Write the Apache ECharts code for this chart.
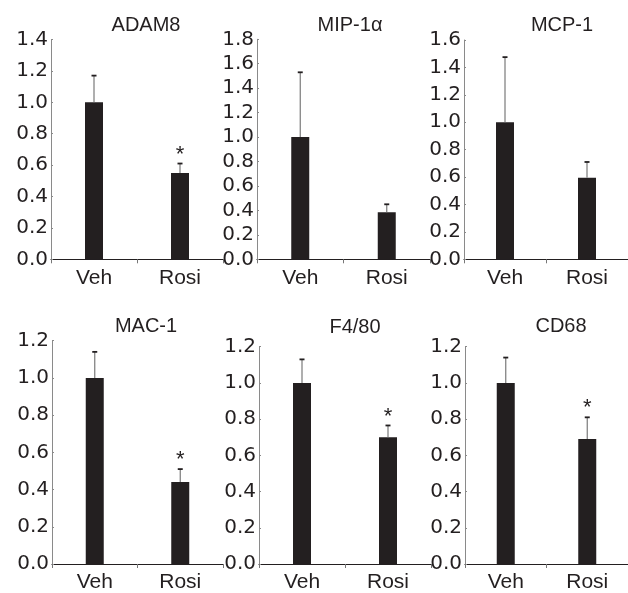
<!DOCTYPE html>
<html>
<head>
<meta charset="utf-8">
<script src="https://cdn.jsdelivr.net/npm/echarts@6/dist/echarts.min.js"></script>
<style>html,body{margin:0;padding:0;background:#fff}#c{width:628px;height:593px}</style>
</head>
<body>
<div id="c"></div>
<script>
const categories = ['Veh', 'Rosi'];
const titles = ['ADAM8', 'MIP-1α', 'MCP-1', 'MAC-1', 'F4/80', 'CD68'];
const adam8Mean = [1.0, 0.55];
const adam8Err = [0.17, 0.06];
const mip1aMean = [1.0, 0.385];
const mip1aErr = [0.53, 0.065];
const mcp1Mean = [1.0, 0.595];
const mcp1Err = [0.475, 0.115];
const mac1Mean = [1.0, 0.44];
const mac1Err = [0.14, 0.07];
const f480Mean = [1.0, 0.70];
const f480Err = [0.13, 0.065];
const cd68Mean = [1.0, 0.69];
const cd68Err = [0.14, 0.12];
const significant = [[false, true], [false, false], [false, false], [false, true], [false, true], [false, true]];
const yMax = [1.4, 1.8, 1.6, 1.2, 1.2, 1.2];
const yStep = 0.2;

const means = [adam8Mean, mip1aMean, mcp1Mean, mac1Mean, f480Mean, cd68Mean];
const errs = [adam8Err, mip1aErr, mcp1Err, mac1Err, f480Err, cd68Err];

// layout (pixels)
const grids = [
  {left: 51, top: 39.5, width: 172, height: 219.8},
  {left: 257, top: 39.3, width: 173, height: 220},
  {left: 464, top: 40, width: 172, height: 219.3},
  {left: 52, top: 340.7, width: 171, height: 226.6},
  {left: 259, top: 346.7, width: 172, height: 220},
  {left: 465, top: 346.7, width: 172, height: 220}
];
const titlePos = [
  {x: 141, y: 10.5}, {x: 345, y: 10.5}, {x: 557, y: 10.5},
  {x: 141, y: 311}, {x: 350, y: 312}, {x: 556, y: 311}
];

const FONT = 'Liberation Sans, Arial, Helvetica, sans-serif';
const TICKFONT = 'DejaVu Sans, Liberation Sans, sans-serif';
const INK = '#231f20';

const option = {
  backgroundColor: '#fff',
  animation: false,
  title: titles.map((t, i) => ({
    text: t, left: titlePos[i].x, top: titlePos[i].y, textAlign: 'center',
    textStyle: {fontFamily: FONT, fontSize: 20, fontWeight: 'normal', color: INK}
  })),
  grid: grids.map(g => Object.assign({containLabel: false}, g)),
  xAxis: grids.map((g, i) => ({
    type: 'category', gridIndex: i, data: categories,
    axisLine: {lineStyle: {color: INK, width: 1.2}},
    axisTick: {show: true, length: 4, lineStyle: {color: '#777'}},
    axisLabel: {fontFamily: FONT, fontSize: 21, color: INK, margin: 8}
  })),
  yAxis: grids.map((g, i) => ({
    type: 'value', gridIndex: i, min: 0, max: yMax[i], interval: yStep,
    splitLine: {show: false},
    axisLine: {show: true, lineStyle: {color: '#8a8a8a', width: 1}},
    axisTick: {show: true, inside: true, length: 2, lineStyle: {color: '#8a8a8a'}},
    axisLabel: {fontFamily: TICKFONT, fontSize: 20, color: INK, margin: 3,
      formatter: v => v.toFixed(1)}
  })),
  series: []
};

means.forEach((m, i) => {
  option.series.push({
    type: 'bar', xAxisIndex: i, yAxisIndex: i, data: m, barWidth: 18,
    itemStyle: {color: INK}, z: 2
  });
  option.series.push({
    type: 'custom', xAxisIndex: i, yAxisIndex: i, z: 3,
    data: m.map((v, j) => [j, v, v + errs[i][j], significant[i][j] ? 1 : 0]),
    renderItem: function (params, api) {
      const base = api.coord([api.value(0), api.value(1)]);
      const top = api.coord([api.value(0), api.value(2)]);
      const children = [
        {type: 'line', shape: {x1: base[0], y1: base[1], x2: top[0], y2: top[1]},
         style: {stroke: '#7a7a7a', lineWidth: 1.2}},
        {type: 'line', shape: {x1: top[0] - 2.5, y1: top[1], x2: top[0] + 2.5, y2: top[1]},
         style: {stroke: INK, lineWidth: 1.8}}
      ];
      if (api.value(3) === 1) {
        children.push({type: 'text', x: top[0], y: top[1] + 2,
          style: {text: '*', fontFamily: FONT, fontSize: 22, fill: INK,
            align: 'center', verticalAlign: 'bottom'}});
      }
      return {type: 'group', children: children};
    }
  });
});

const chart = echarts.init(document.getElementById('c'), null, {renderer: 'canvas'});
chart.setOption(option);
</script>
</body>
</html>
